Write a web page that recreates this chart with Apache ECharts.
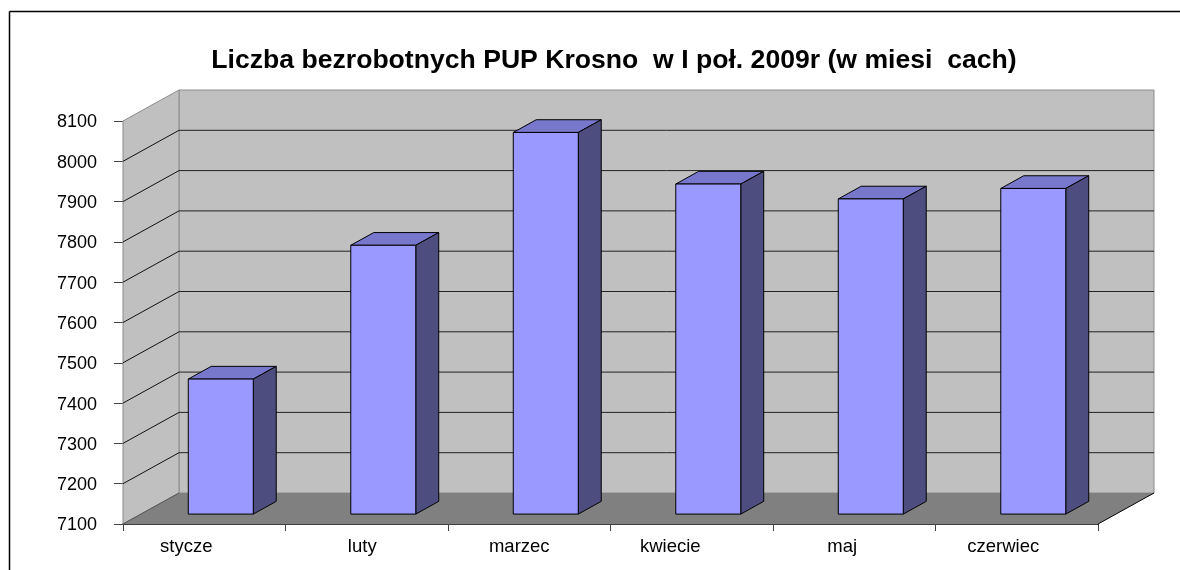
<!DOCTYPE html>
<html>
<head>
<meta charset="utf-8">
<script src="https://cdn.jsdelivr.net/npm/echarts@6/dist/echarts.min.js"></script>
<style>html,body{margin:0;padding:0;background:#fff}#c{width:1180px;height:570px}</style>
</head>
<body>
<div id="c"></div>
<script>
var titleText = 'Liczba bezrobotnych PUP Krosno  w I poł. 2009r (w miesi  cach)';
var categories = ['stycze', 'luty', 'marzec', 'kwiecie', 'maj', 'czerwiec'];
var values = [7435, 7767, 8047, 7919, 7882, 7908];
var yTicks = [7100, 7200, 7300, 7400, 7500, 7600, 7700, 7800, 7900, 8000, 8100];
var labelShift = [36, 9, 20, 43, 24, 27];

var DX = 56, DY = -31;
var FONT = '"Liberation Sans", Arial, sans-serif';

function poly(points, fill, stroke, lw) {
  return {type: 'polygon', shape: {points: points},
    style: {fill: fill, stroke: stroke || 'none', lineWidth: lw || 0}};
}
function renderWalls(params) {
  var c = params.coordSys, L = c.x, R = c.x + c.width, T = c.y, B = c.y + c.height;
  return {type: 'group', children: [
    poly([[L + DX, T + DY], [R + DX, T + DY], [R + DX, B + DY], [L + DX, B + DY]], '#C0C0C0', '#8c8c8c', 1),
    poly([[L, B], [L + DX, B + DY], [L + DX, T + DY], [L, T]], '#C0C0C0', '#8c8c8c', 1),
    poly([[L, B], [R, B], [R + DX, B + DY], [L + DX, B + DY]], '#808080'),
    {type: 'line', shape: {x1: R, y1: B, x2: R + DX, y2: B + DY}, style: {stroke: '#000', lineWidth: 1}},
    {type: 'line', shape: {x1: L, y1: B, x2: L + DX, y2: B + DY}, style: {stroke: '#555', lineWidth: 1}}
  ]};
}
function renderGrid(params, api) {
  var v = api.value(0), c = params.coordSys;
  var y = api.coord([0, v])[1], L = c.x, R = c.x + c.width;
  if (v === yTicks[0] || v === yTicks[yTicks.length - 1]) return {type: 'group', children: []};
  return {type: 'group', children: [
    {type: 'line', shape: {x1: L, y1: y, x2: L + DX, y2: y + DY}, style: {stroke: '#111', lineWidth: 1}},
    {type: 'line', shape: {x1: L + DX, y1: y + DY, x2: R + DX, y2: y + DY}, style: {stroke: '#222', lineWidth: 1}}
  ]};
}
function renderBar(params, api) {
  var i = api.value(0), v = api.value(1);
  var band = api.size([1, 0])[0];
  var base = api.coord([i, yTicks[0]]), top = api.coord([i, v]);
  var w = band * 0.4, fx = 0.295, fy = 0.32, d = 0.41;
  var ox = DX * fx, oy = DY * fy, px = DX * d, py = DY * d;
  var xl = base[0] - w / 2 + ox, xr = xl + w, yb = base[1] + oy, yt = top[1] + oy;
  var st = '#000';
  return {type: 'group', children: [
    poly([[xl, yt], [xr, yt], [xr + px, yt + py], [xl + px, yt + py]], '#7777CC', st, 1),
    poly([[xr, yb], [xr + px, yb + py], [xr + px, yt + py], [xr, yt]], '#4D4D80', st, 1),
    poly([[xl, yb], [xr, yb], [xr, yt], [xl, yt]], '#9999FF', st, 1)
  ]};
}

var rich = {};
labelShift.forEach(function (s, i) { rich['c' + i] = {padding: [0, s, 0, 0], fontSize: 18.5, fontFamily: FONT, color: '#000'}; });

var chart = echarts.init(document.getElementById('c'), null, {renderer: 'canvas'});
chart.setOption({
  animation: false,
  backgroundColor: '#fff',
  title: {text: titleText, left: 609, top: 42, textAlign: 'center',
    textStyle: {fontFamily: FONT, fontSize: 26.6, fontWeight: 'bold', color: '#000'}},
  grid: {left: 123, top: 121, width: 975, height: 403},
  graphic: [
    {type: 'line', silent: true, shape: {x1: 9.5, y1: 11.5, x2: 9.5, y2: 570}, style: {stroke: '#000', lineWidth: 1.5}},
    {type: 'line', silent: true, shape: {x1: 9.5, y1: 11.5, x2: 1180, y2: 11.5}, style: {stroke: '#000', lineWidth: 1.5}}
  ],
  xAxis: {type: 'category', data: categories, boundaryGap: true,
    axisLine: {onZero: false, lineStyle: {color: '#000', width: 1.5}},
    axisTick: {show: true, alignWithLabel: false, length: 7, lineStyle: {color: '#444'}},
    axisLabel: {margin: 13, interval: 0, fontFamily: FONT, fontSize: 18.5, color: '#000',
      formatter: function (val, i) { return '{c' + i + '|' + val + '}'; }, rich: rich},
    splitLine: {show: false}},
  yAxis: {type: 'value', min: 7100, max: 8100, interval: 100,
    axisLine: {show: true, lineStyle: {color: '#000', width: 1}},
    axisTick: {show: true, length: 9, lineStyle: {color: '#444'}},
    axisLabel: {margin: 26, fontFamily: FONT, fontSize: 18, color: '#000',
      formatter: function (v) { return '{v|' + v + '}'; },
      rich: {v: {padding: [3, 0, 0, 0], fontFamily: FONT, fontSize: 18, color: '#000'}}},
    splitLine: {show: false}},
  series: [
    {type: 'custom', name: 'walls', coordinateSystem: 'cartesian2d', clip: false, silent: true, z: 1,
      renderItem: renderWalls, data: [0]},
    {type: 'custom', name: 'gridlines', coordinateSystem: 'cartesian2d', clip: false, silent: true, z: 2,
      encode: {y: 0}, renderItem: renderGrid, data: yTicks.map(function (t) { return [t]; })},
    {type: 'custom', name: 'Liczba bezrobotnych', coordinateSystem: 'cartesian2d', clip: false, z: 3,
      encode: {x: 0, y: 1}, renderItem: renderBar,
      data: values.map(function (v, i) { return [i, v]; })}
  ]
});
</script>
</body>
</html>
